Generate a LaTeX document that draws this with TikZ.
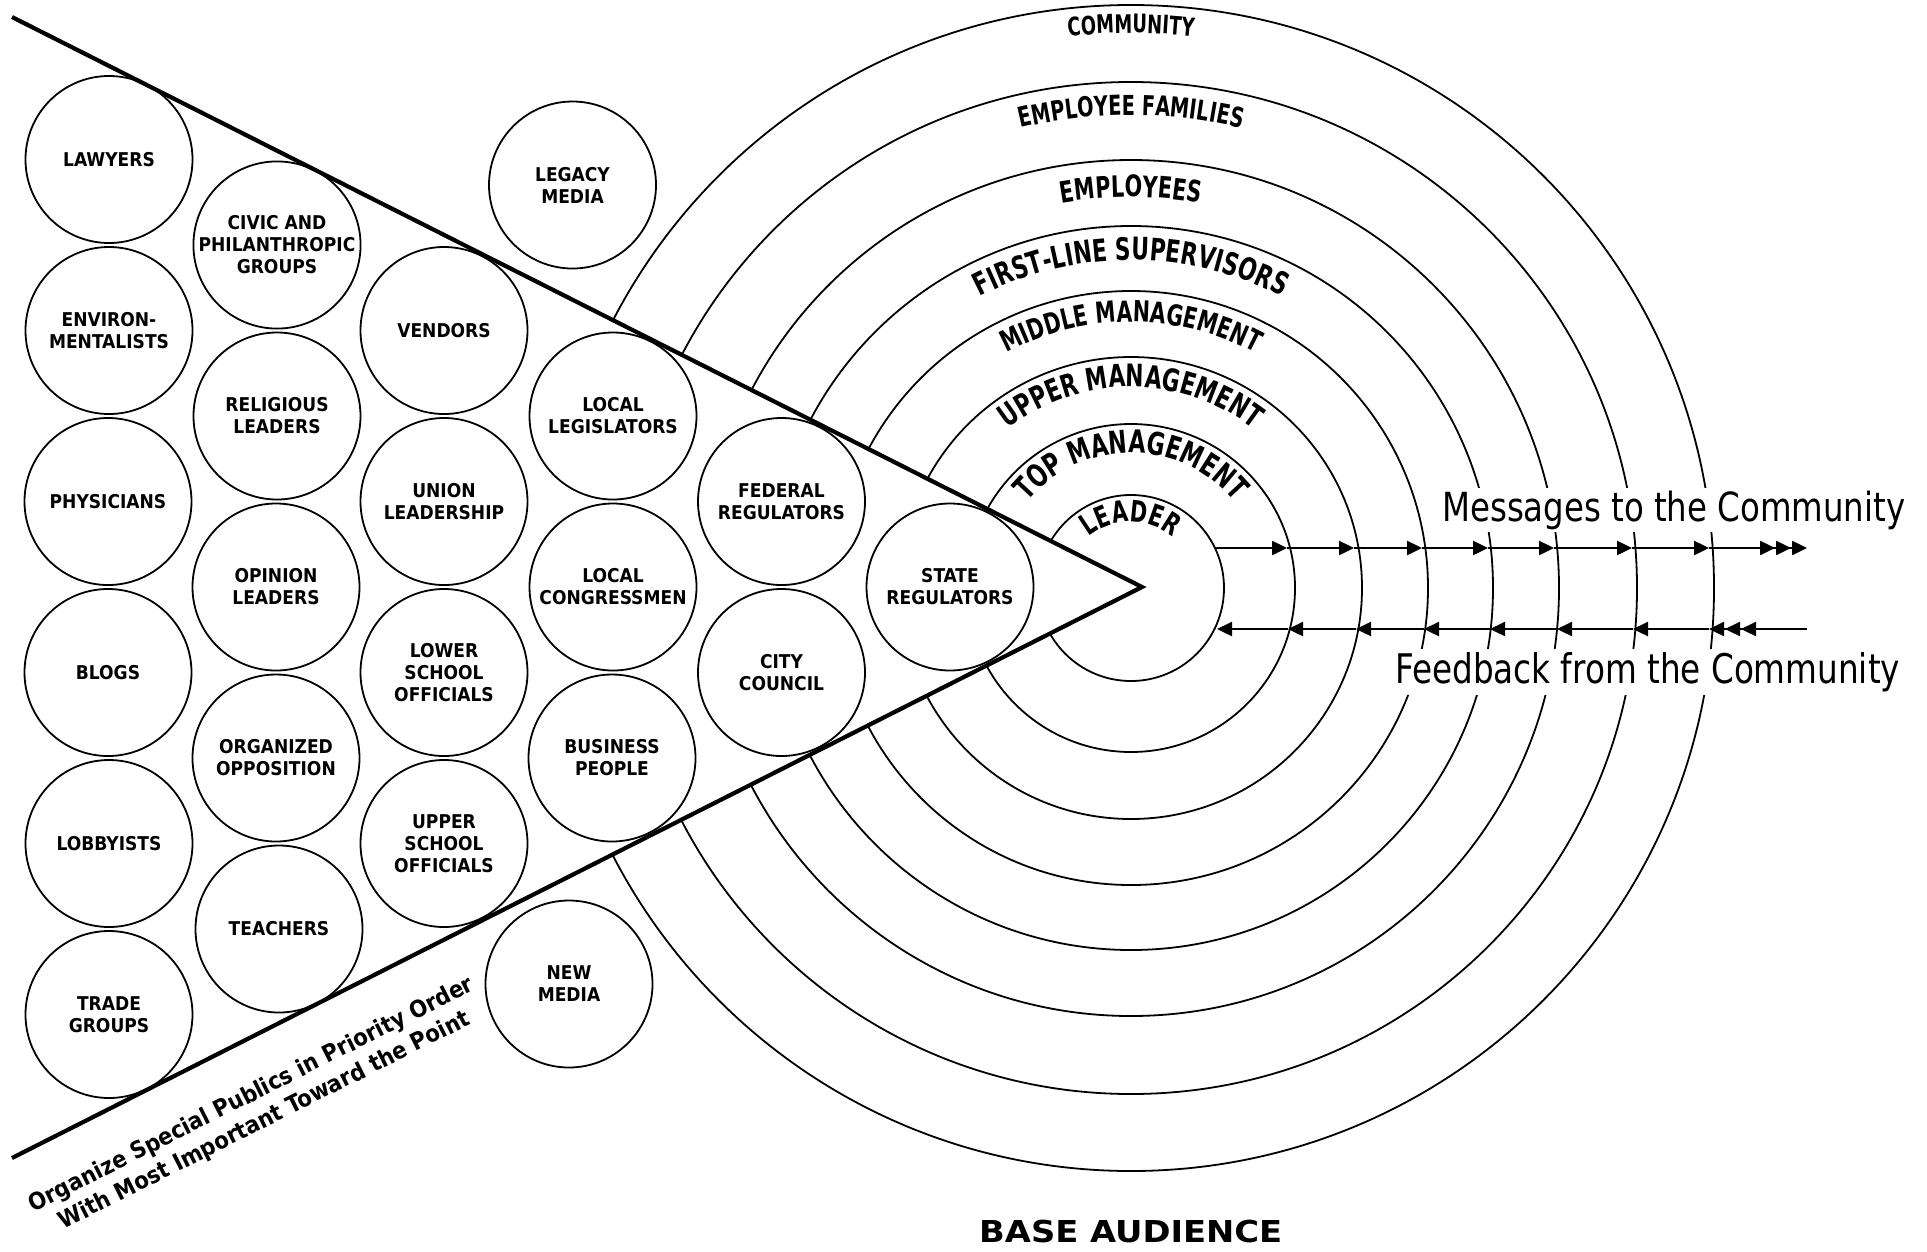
\documentclass[tikz,border=0pt]{standalone}
\usepackage{fontspec}
\setmainfont{DejaVu Sans Condensed}
\newfontfamily\arcfont{DejaVu Sans Condensed}[FakeStretch=0.78]
\usetikzlibrary{arrows.meta,decorations.text,calc}
\begin{document}
\begin{tikzpicture}[x=1pt,y=1pt,
  pub/.style={circle, draw, line width=1.8pt, minimum size=167pt, inner sep=0pt, align=center,
    font=\bfseries\fontsize{19}{22}\selectfont},
  ring/.style={line width=1.8pt},
  wedgeline/.style={line width=4.2pt, line join=miter},
  flow/.style={line width=2.4pt, -{Triangle[length=15pt,width=14pt]}},
  flowthree/.style={line width=2.4pt, -{Triangle[length=15pt,width=14pt,sep=1pt]Triangle[length=15pt,width=14pt,sep=1pt]Triangle[length=15pt,width=14pt]}},
]
\useasboundingbox (0,-1251) rectangle (1927,0);
\coordinate (C) at (1131,-588);
\coordinate (wtop) at (12,-17);
\coordinate (wtip) at (1142,-587);
\coordinate (wbot) at (12,-1158);

% concentric rings, outside the wedge only
\begin{scope}
\clip (0,0) -- (1927,0) -- (1927,-1251) -- (0,-1251) -- (wbot) -- (wtip) -- (wtop) -- cycle;
\foreach \r in {93,164,231,297,362,428,506,583} \draw[ring] (C) circle[radius=\r];
\end{scope}

% ring labels
\path[decorate, decoration={text along path, text align=center, text={|\arcfont\bfseries\fontsize{25.5}{26}\selectfont|COMMUNITY}}]
  ($(C)+(175:555)$) arc[start angle=175, end angle=5, radius=555];
\path[decorate, decoration={text along path, text align=center, text={|\arcfont\bfseries\fontsize{27.5}{28}\selectfont|EMPLOYEE FAMILIES}}]
  ($(C)+(175:473)$) arc[start angle=175, end angle=5, radius=473];
\path[decorate, decoration={text along path, text align=center, text={|\arcfont\bfseries\fontsize{29.5}{30}\selectfont|EMPLOYEES}}]
  ($(C)+(175:391)$) arc[start angle=175, end angle=5, radius=391];
\path[decorate, decoration={text along path, text align=center, text={|\arcfont\bfseries\fontsize{31}{32}\selectfont|FIRST-LINE SUPERVISORS}}]
  ($(C)+(175:328)$) arc[start angle=175, end angle=5, radius=328];
\path[decorate, decoration={text along path, text align=center, text={|\arcfont\bfseries\fontsize{29}{30}\selectfont|MIDDLE MANAGEMENT}}]
  ($(C)+(175:266)$) arc[start angle=175, end angle=5, radius=266];
\path[decorate, decoration={text along path, text align=center, text={|\arcfont\bfseries\fontsize{31}{32}\selectfont|UPPER MANAGEMENT}}]
  ($(C)+(175:201)$) arc[start angle=175, end angle=5, radius=201];
\path[decorate, decoration={text along path, text align=center, text={|\arcfont\bfseries\fontsize{31.5}{32}\selectfont|TOP MANAGEMENT}}]
  ($(C)+(175:135)$) arc[start angle=175, end angle=5, radius=135];
\path[decorate, decoration={text along path, text align=center, text={|\arcfont\bfseries\fontsize{29.5}{30}\selectfont|LEADER}}]
  ($(C)+(175:66)$) arc[start angle=175, end angle=5, radius=66];

% special publics
\node[pub] (lawyers) at (109,-159.5) {LAWYERS};
\node[pub] (environ) at (109,-330.5) {ENVIRON-\\MENTALISTS};
\node[pub] (physicians) at (108,-501.5) {PHYSICIANS};
\node[pub] (blogs) at (108,-672.5) {BLOGS};
\node[pub] (lobbyists) at (109,-843.5) {LOBBYISTS};
\node[pub] (trade) at (109,-1014.5) {TRADE\\GROUPS};

\node[pub] (civic) at (277,-245) {CIVIC AND\\PHILANTHROPIC\\GROUPS};
\node[pub] (religious) at (277,-416) {RELIGIOUS\\LEADERS};
\node[pub] (opinion) at (276,-587) {OPINION\\LEADERS};
\node[pub] (organized) at (276,-758) {ORGANIZED\\OPPOSITION};
\node[pub] (teachers) at (279,-929) {TEACHERS};

\node[pub] (vendors) at (444,-330.5) {VENDORS};
\node[pub] (union) at (444,-501.5) {UNION\\LEADERSHIP};
\node[pub] (lower) at (444,-672.5) {LOWER\\SCHOOL\\OFFICIALS};
\node[pub] (upper) at (444,-843.5) {UPPER\\SCHOOL\\OFFICIALS};

\node[pub] (legis) at (613,-416) {LOCAL\\LEGISLATORS};
\node[pub] (congress) at (613,-587) {LOCAL\\CONGRESSMEN};
\node[pub] (business) at (612,-758) {BUSINESS\\PEOPLE};

\node[pub] (federal) at (781.5,-501.5) {FEDERAL\\REGULATORS};
\node[pub] (city) at (781.5,-672.5) {CITY\\COUNCIL};

\node[pub] (state) at (950,-587) {STATE\\REGULATORS};

\node[pub] (legacy) at (572.5,-185) {LEGACY\\MEDIA};
\node[pub] (newmedia) at (569,-984) {NEW\\MEDIA};

% wedge
\draw[wedgeline] (wtop) -- (wtip) -- (wbot);

% message arrows
\coordinate (u0) at (1215,-548);
\coordinate (u1) at (1287,-548);
\coordinate (u2) at (1354,-548);
\coordinate (u3) at (1422,-548);
\coordinate (u4) at (1488,-548);
\coordinate (u5) at (1554,-548);
\coordinate (u6) at (1632,-548);
\coordinate (u7) at (1709,-548);
\coordinate (u8) at (1807,-548);
\draw[flow] (u0) -- (u1);
\draw[flow] (u1) -- (u2);
\draw[flow] (u2) -- (u3);
\draw[flow] (u3) -- (u4);
\draw[flow] (u4) -- (u5);
\draw[flow] (u5) -- (u6);
\draw[flow] (u6) -- (u7);
\draw[flowthree] (u7) -- (u8);

% feedback arrows
\coordinate (l0) at (1217,-629);
\coordinate (l1) at (1288,-629);
\coordinate (l2) at (1356,-629);
\coordinate (l3) at (1424,-629);
\coordinate (l4) at (1490,-629);
\coordinate (l5) at (1557,-629);
\coordinate (l6) at (1633,-629);
\coordinate (l7) at (1709,-629);
\coordinate (l8) at (1807,-629);
\draw[flowthree] (l8) -- (l7);
\draw[flow] (l7) -- (l6);
\draw[flow] (l6) -- (l5);
\draw[flow] (l5) -- (l4);
\draw[flow] (l4) -- (l3);
\draw[flow] (l3) -- (l2);
\draw[flow] (l2) -- (l1);
\draw[flow] (l1) -- (l0);

% texts
\node[anchor=base west, inner xsep=0pt, inner ysep=3pt, fill=white] (msg) at (1442,-521)
  {\resizebox{463pt}{30.5pt}{Messages to the Community}};
\node[anchor=base west, inner xsep=0pt, inner ysep=3pt, fill=white] (fb) at (1395,-683)
  {\resizebox{505pt}{31pt}{Feedback from the Community}};
\node[anchor=base west, inner sep=0pt] (base) at (979,-1242)
  {\resizebox{303pt}{22.4pt}{\bfseries BASE AUDIENCE}};
\node[rotate=26.77, align=center, inner sep=0pt, font=\bfseries\fontsize{23.5}{29}\selectfont] (caption) at (258,-1108)
  {Organize Special Publics in Priority Order\\With Most Important Toward the Point};
\end{tikzpicture}
\end{document}
